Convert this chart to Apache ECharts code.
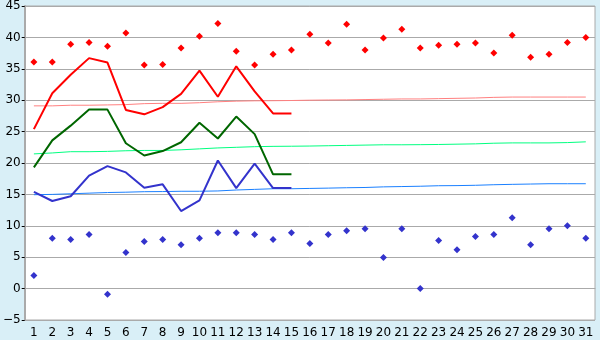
<!DOCTYPE html>
<html><head><meta charset="utf-8">
<script src="https://cdn.jsdelivr.net/npm/echarts@6/dist/echarts.min.js"></script>
<style>html,body{margin:0;padding:0;background:#d9eff7;}#c{width:600px;height:340px;}</style>
</head><body><div id="c"></div>
<script>
var days = ['1','2','3','4','5','6','7','8','9','10','11','12','13','14','15','16','17','18','19','20','21','22','23','24','25','26','27','28','29','30','31'];
var yTicks = [-5, 45, 5];
var recordMax = [36.1,36.1,38.9,39.2,38.6,40.7,35.6,35.7,38.3,40.2,42.2,37.8,35.6,37.3,38.0,40.5,39.1,42.1,38.0,39.9,41.3,38.3,38.75,38.9,39.1,37.5,40.35,36.85,37.3,39.2,40.0];
var recordMin = [2.1,8.0,7.8,8.6,-0.9,5.75,7.5,7.8,7.0,8.0,8.9,8.9,8.6,7.8,8.9,7.2,8.6,9.2,9.55,4.95,9.55,0.0,7.65,6.2,8.3,8.6,11.3,7.0,9.55,10.0,8.0];
var maxTemp = [25.4,31.1,34.05,36.7,36.0,28.45,27.75,28.9,31.0,34.7,30.55,35.4,31.4,27.9,27.9];
var meanTemp = [19.3,23.6,25.95,28.5,28.5,23.15,21.2,21.9,23.3,26.4,23.9,27.4,24.6,18.2,18.2];
var minTemp = [15.4,13.95,14.7,18.0,19.5,18.5,16.05,16.6,12.35,14.05,20.4,16.0,19.9,16.0,16.0];
var normalMax = [29.1,29.1,29.2,29.2,29.25,29.3,29.45,29.5,29.5,29.6,29.75,29.85,29.9,29.92,29.95,30.0,30.03,30.05,30.1,30.15,30.2,30.2,30.25,30.3,30.35,30.45,30.5,30.5,30.5,30.5,30.5];
var normalMean = [21.45,21.6,21.8,21.8,21.85,21.95,22.0,22.0,22.1,22.25,22.4,22.5,22.6,22.65,22.67,22.7,22.75,22.8,22.85,22.9,22.9,22.92,22.95,23.0,23.05,23.15,23.2,23.2,23.2,23.25,23.37];
var normalMin = [14.95,15.0,15.1,15.2,15.3,15.35,15.43,15.45,15.5,15.5,15.55,15.7,15.8,15.9,15.9,15.95,16.0,16.06,16.1,16.2,16.25,16.3,16.38,16.4,16.45,16.54,16.6,16.65,16.7,16.7,16.7];

var chart = echarts.init(document.getElementById('c'));
var font = 'DejaVu Sans';
function ln(data, color, w) {
  return {type:'line', data:data, symbol:'none', lineStyle:{color:color, width:w}, itemStyle:{color:color}, animation:false, z: w>1?5:3};
}
function sc(data, color) {
  return {type:'scatter', data:data, symbol:'diamond', symbolSize:7, itemStyle:{color:color, opacity:1}, animation:false, z:6};
}
chart.setOption({
  backgroundColor:'#d9eff7',
  animation:false,
  grid:{left:20, right:5, top:5, bottom:20, show:true, backgroundColor:'#ffffff', borderColor:'#aaaaaa', borderWidth:1},
  xAxis:{type:'category', data:days, boundaryGap:true,
    axisLine:{lineStyle:{color:'#aaaaaa', width:1}},
    axisTick:{alignWithLabel:true, length:4, lineStyle:{color:'#000'}},
    axisLabel:{color:'#000', fontFamily:font, fontSize:12, margin:7, interval:0},
    splitLine:{show:false}},
  yAxis:{type:'value', min:yTicks[0], max:yTicks[1], interval:yTicks[2],
    axisLine:{show:true, lineStyle:{color:'#aaaaaa', width:2}},
    axisTick:{show:true, length:3, lineStyle:{color:'#000'}},
    axisLabel:{color:'#000', fontFamily:font, fontSize:12, margin:4, formatter:function(v){return String(v).replace('-','\u2212');}},
    splitLine:{lineStyle:{color:'#aaaaaa', width:1}}},
  series:[
    ln(normalMax, '#ff8080', 1),
    ln(normalMean, '#00ff80', 1),
    ln(normalMin, '#1a80ff', 1),
    ln(maxTemp, '#ff0000', 2),
    ln(meanTemp, '#006600', 2),
    ln(minTemp, '#3333cc', 2),
    sc(recordMax, '#ff0000'),
    sc(recordMin, '#3333cc')
  ]
});
</script></body></html>
